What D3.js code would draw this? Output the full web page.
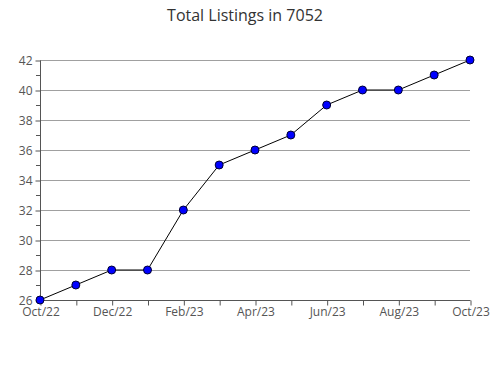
<!DOCTYPE html>
<html>
<head>
<meta charset="utf-8">
<script src="https://cdn.jsdelivr.net/npm/d3@7"></script>
<style>
    body { margin: 0; background: #fff; }
    text { font-family: "Open Sans", sans-serif; }
</style>
</head>
<body>
<div id="chart"></div>
<script>
const months = ["Oct/22", "Nov/22", "Dec/22", "Jan/23", "Feb/23", "Mar/23", "Apr/23",
    "May/23", "Jun/23", "Jul/23", "Aug/23", "Sep/23", "Oct/23"];
const listings = [26, 27, 28, 28, 32, 35, 36, 37, 39, 40, 40, 41, 42];
const yTicks = [26, 28, 30, 32, 34, 36, 38, 40, 42];
const yMinorTicks = [27, 29, 31, 33, 35, 37, 39, 41];
const title = "Total Listings in 7052";

const svg = {
    width: 490,
    height: 380,
    margin: { top: 60, right: 20, bottom: 80, left: 40 }
};

const xScale = d3.scalePoint()
    .domain(months)
    .range([svg.margin.left, svg.width - svg.margin.right]);

const yScale = d3.scaleLinear()
    .domain([26, 42])
    .range([svg.height - svg.margin.bottom, svg.margin.top]);

const chart = d3.select("#chart")
    .append("svg")
    .attr("width", svg.width)
    .attr("height", svg.height);

chart.append("text")
    .attr("x", svg.width / 2)
    .attr("y", 21)
    .attr("text-anchor", "middle")
    .attr("font-size", 16)
    .attr("fill", "#333")
    .text(title);

// grid
chart.append("g")
    .selectAll("line")
    .data(yTicks.slice(1))
    .join("line")
    .attr("x1", svg.margin.left)
    .attr("x2", svg.width - svg.margin.right)
    .attr("y1", d => yScale(d) + 0.5)
    .attr("y2", d => yScale(d) + 0.5)
    .attr("stroke", "#a0a0a0");

// minor y ticks
chart.append("g")
    .selectAll("line")
    .data(yMinorTicks)
    .join("line")
    .attr("x1", svg.margin.left - 4)
    .attr("x2", svg.margin.left)
    .attr("y1", d => yScale(d) + 0.5)
    .attr("y2", d => yScale(d) + 0.5)
    .attr("stroke", "#555");

const yAxis = d3.axisLeft(yScale)
    .tickValues(yTicks)
    .tickSize(5)
    .tickPadding(3);

const gy = chart.append("g")
    .attr("transform", `translate(${svg.margin.left + 0.5},0.5)`)
    .call(yAxis);

const xAxis = d3.axisBottom(xScale)
    .tickSize(5)
    .tickPadding(2)
    .tickFormat((d, i) => i % 2 === 0 ? d : "");

const gx = chart.append("g")
    .attr("transform", `translate(0.5,${svg.height - svg.margin.bottom + 0.5})`)
    .call(xAxis);

[gx, gy].forEach(g => {
    g.select(".domain").attr("stroke", "#555");
    g.selectAll(".tick line").attr("stroke", "#555");
    g.selectAll(".tick text")
        .attr("fill", "#555")
        .attr("font-size", 12)
        .attr("font-family", "Open Sans, sans-serif");
});
gy.select(".domain").attr("d", `M0,${svg.margin.top}V${svg.height - svg.margin.bottom}`);
gx.select(".domain").attr("d", `M${svg.margin.left},0H${svg.width - svg.margin.right}`);

const line = d3.line()
    .x((d, i) => xScale(months[i]))
    .y(d => yScale(d));

chart.append("path")
    .datum(listings)
    .attr("fill", "none")
    .attr("stroke", "#000")
    .attr("stroke-width", 1)
    .attr("d", line);

chart.append("g")
    .selectAll("circle")
    .data(listings)
    .join("circle")
    .attr("cx", (d, i) => xScale(months[i]))
    .attr("cy", d => yScale(d))
    .attr("r", 4)
    .attr("fill", "#0000ff")
    .attr("stroke", "#000033")
    .attr("stroke-width", 1);
</script>
</body>
</html>
